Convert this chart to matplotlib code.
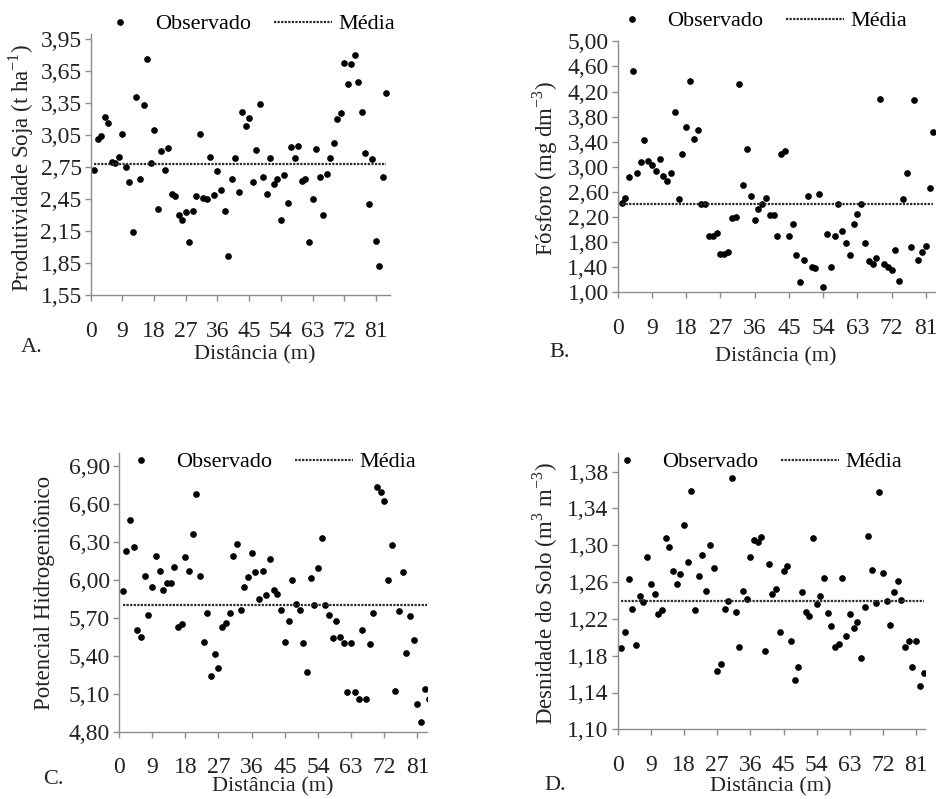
import numpy as np
import matplotlib
matplotlib.use('Agg')
import matplotlib.pyplot as plt
from matplotlib.lines import Line2D

plt.rcParams['font.family'] = ['Liberation Serif', 'DejaVu Serif']
plt.rcParams['mathtext.fontset'] = 'custom'
plt.rcParams['mathtext.rm'] = 'Liberation Serif'

# A. soybean yield (t/ha)
soja = [2.72, 3.01, 3.04, 3.22, 3.16, 2.80, 2.79, 2.85, 3.06, 2.75,
        2.61, 2.14, 3.41, 2.64, 3.33, 3.77, 2.79, 3.10, 2.36, 2.90,
        2.72, 2.93, 2.50, 2.48, 2.30, 2.25, 2.33, 2.05, 2.34, 2.48,
        3.06, 2.46, 2.45, 2.85, 2.49, 2.71, 2.54, 2.34, 1.92, 2.64,
        2.84, 2.52, 3.27, 3.14, 3.21, 2.61, 2.91, 3.34, 2.66, 2.50,
        2.84, 2.59, 2.64, 2.25, 2.68, 2.41, 2.94, 2.84, 2.95, 2.62,
        2.64, 2.05, 2.45, 2.92, 2.66, 2.30, 2.69, 2.84, 2.98, 3.20,
        3.26, 3.73, 3.53, 3.72, 3.80, 3.55, 3.27, 2.88, 2.40, 2.83,
        2.06, 1.82, 2.66, 3.45]
media_soja = 2.78

# B. phosphorus (mg/dm3)
fosforo = [2.43, 2.51, 2.83, 4.53, 2.90, 3.08, 3.43, 3.10, 3.03, 2.93,
           3.13, 2.86, 2.77, 2.90, 3.87, 2.49, 3.21, 3.63, 4.36, 3.45,
           3.59, 2.40, 2.40, 1.89, 1.90, 1.95, 1.61, 1.61, 1.64, 2.19,
           2.20, 4.32, 2.71, 3.28, 2.53, 2.15, 2.32, 2.41, 2.51, 2.23,
           2.23, 1.90, 3.21, 3.25, 1.89, 2.09, 1.59, 1.16, 1.51, 2.53,
           1.41, 1.38, 2.56, 1.09, 1.93, 1.41, 1.89, 2.40, 1.98, 1.78,
           1.59, 2.09, 2.24, 2.40, 1.78, 1.50, 1.45, 1.55, 4.08, 1.45,
           1.40, 1.35, 1.67, 1.18, 2.49, 2.90, 1.72, 4.06, 1.52, 1.64,
           1.74, 2.66, 3.56]
media_fosforo = 2.40

# C. pH
ph = [5.91, 6.23, 6.47, 6.26, 5.60, 5.55, 6.03, 5.72, 5.94, 6.19,
      6.07, 5.92, 5.97, 5.97, 6.10, 5.63, 5.65, 6.18, 6.07, 6.36,
      6.68, 6.03, 5.51, 5.74, 5.24, 5.41, 5.30, 5.63, 5.66, 5.74,
      6.19, 6.28, 5.76, 5.94, 6.02, 6.21, 6.06, 5.85, 6.07, 5.88,
      6.16, 5.92, 5.89, 5.76, 5.51, 5.67, 6.00, 5.81, 5.76, 5.50,
      5.27, 6.01, 5.80, 6.09, 6.33, 5.80, 5.72, 5.54, 5.67, 5.55,
      5.50, 5.11, 5.50, 5.11, 5.06, 5.60, 5.06, 5.49, 5.74, 6.73,
      6.69, 6.62, 6.00, 6.27, 5.12, 5.75, 6.06, 5.42, 5.71, 5.52,
      5.02, 4.88, 5.14, 5.06]
media_ph = 5.80

# D. soil density
densidade = [1.188, 1.206, 1.263, 1.231, 1.192, 1.245, 1.238, 1.287, 1.258, 1.247,
             1.225, 1.230, 1.308, 1.298, 1.272, 1.258, 1.269, 1.322, 1.282, 1.359,
             1.230, 1.267, 1.290, 1.250, 1.300, 1.275, 1.163, 1.171, 1.231, 1.240,
             1.373, 1.228, 1.190, 1.250, 1.242, 1.287, 1.306, 1.304, 1.309, 1.185,
             1.280, 1.247, 1.253, 1.206, 1.272, 1.277, 1.196, 1.154, 1.168, 1.249,
             1.228, 1.223, 1.308, 1.236, 1.245, 1.265, 1.226, 1.212, 1.189, 1.193,
             1.265, 1.201, 1.225, 1.210, 1.217, 1.177, 1.233, 1.310, 1.273, 1.237,
             1.358, 1.270, 1.240, 1.213, 1.249, 1.261, 1.241, 1.189, 1.196, 1.168,
             1.196, 1.147, 1.161]
media_densidade = 1.24

x_ticks = [0, 9, 18, 27, 36, 45, 54, 63, 72, 81]

W, H = 937, 799
fig = plt.figure(figsize=(W / 100, H / 100), dpi=100)


def px(x, y):
    return x / W, 1 - y / H


panels = [
    # values, mean, rect(px l, t, r, b), xmax, ylim, yticks, ylabel, ylabel pos, letter, letter pos, xlabel pos, legend pos
    (soja, media_soja, (90.7, 34, 390, 295), 85, (1.55, 4.0), np.arange(1.55, 3.96, 0.30),
     'Produtividade Soja (t ha$^{\\mathrm{-1}}$)', (21, 168), 'A.', (32, 347), (255, 355), (243, 24)),
    (fosforo, media_fosforo, (617.7, 41.3, 941, 292.3), 85, (1.0, 5.0), np.arange(1.0, 5.01, 0.40),
     'Fósforo (mg dm$^{\\mathrm{-3}}$)', (545, 168), 'B.', (560, 352), (776, 357), (755, 21)),
    (ph, media_ph, (119, 453, 426.7, 731.7), 83.5, (4.80, 7.0), np.arange(4.80, 6.91, 0.30),
     'Potencial Hidrogeniônico', (45, 593), 'C.', (53, 780), (273, 787), (264, 462)),
    (densidade, media_densidade, (617.7, 453.3, 925, 729.3), 83.4, (1.10, 1.40), np.arange(1.10, 1.381, 0.04),
     'Desnidade do Solo (m$^{\\mathrm{3}}$ m$^{\\mathrm{-3}}$)', (545, 594), 'D.', (555, 785), (771, 787), (750, 462)),
]

for (vals, mean, rect, xmax, ylim, yticks, ylabel, ylpos, letter, letpos, xlpos, legpos) in panels:
    l, t, r, b = rect
    ax = fig.add_axes([l / W, 1 - b / H, (r - l) / W, (b - t) / H])
    x = np.arange(1, len(vals) + 1)
    ax.plot(x, vals, 'o', color='black', markersize=3.8, label='Observado')
    ax.plot(x, [mean] * len(vals), color='#2a2a2a', lw=1.6, linestyle=(0, (1, 0.6)), label='Média')
    ax.set_xlim(0, xmax)
    ax.set_ylim(*ylim)
    ax.set_xticks(x_ticks)
    ax.set_xticklabels([str(v) for v in x_ticks])
    ax.set_yticks(yticks)
    ax.set_yticklabels([f'{v:.2f}'.replace('.', ',') for v in yticks])
    for s in ['top', 'right']:
        ax.spines[s].set_visible(False)
    for s in ['left', 'bottom']:
        ax.spines[s].set_color('#8c8c8c')
        ax.spines[s].set_linewidth(1.0)
    ax.tick_params(axis='both', direction='out', length=4.5, width=1.0, color='#8c8c8c',
                   labelsize=17, labelcolor='#222222')
    ax.tick_params(axis='x', pad=14)
    ax.tick_params(axis='y', pad=2)

    fig.text(*px(*ylpos), ylabel, rotation=90, ha='center', va='center', fontsize=16.5, color='#222222')
    fig.text(*px(*xlpos), 'Distância (m)', ha='center', va='center', fontsize=16, color='#222222')
    fig.text(*px(*letpos), letter, ha='center', va='center', fontsize=16, color='#222222')

    handles = [Line2D([], [], marker='o', color='black', linestyle='none', markersize=3.8),
               Line2D([], [], color='#2a2a2a', lw=1.6, linestyle=(0, (1, 0.6)))]
    ax.legend(handles, ['Observado', 'Média'], ncol=2, frameon=False, loc='center',
              bbox_to_anchor=px(*legpos), bbox_transform=fig.transFigure,
              fontsize=16, handlelength=2.6, handletextpad=0.3, columnspacing=1.0,
              borderpad=0, borderaxespad=0)

fig.savefig('out.png', dpi=100)
